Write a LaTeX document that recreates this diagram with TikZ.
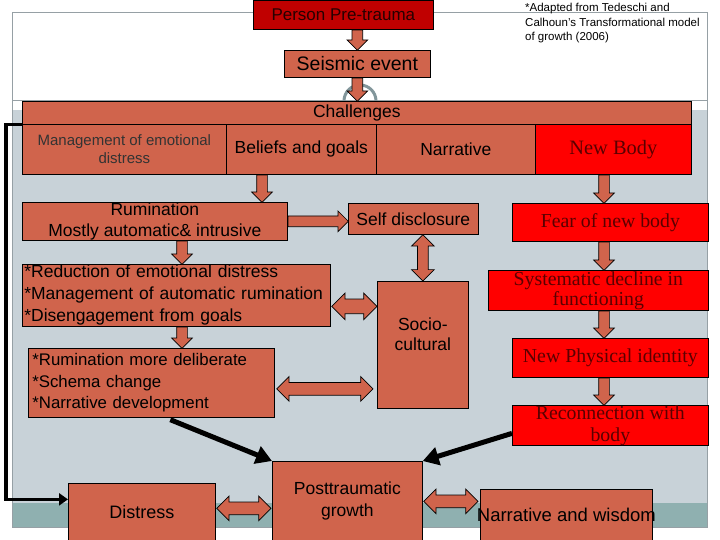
\documentclass[tikz,border=0pt]{standalone}
\usepackage{fontspec}
\setmainfont{Liberation Sans}
\newfontfamily\timesfont{Liberation Serif}
\usetikzlibrary{shapes.arrows, arrows.meta, calc}
\definecolor{terra}{RGB}{208,100,76}
\definecolor{darkbrick}{RGB}{192,0,0}
\definecolor{bodyred}{RGB}{255,0,0}
\definecolor{bodytext}{RGB}{90,0,0}
\definecolor{slate}{RGB}{200,210,216}
\definecolor{bandteal}{RGB}{143,176,176}
\definecolor{framegray}{RGB}{150,160,165}
\definecolor{arcgray}{RGB}{130,150,155}
\tikzset{
    box/.style={draw=black, fill=terra, line width=0.7pt, inner sep=0pt, anchor=north west,
        align=center, font=\fontsize{17.5}{22}\selectfont},
    redbox/.style={box, fill=bodyred, text=bodytext, font=\timesfont\fontsize{19.8}{20}\selectfont},
    blockarr/.style={single arrow, draw=black, fill=terra, line width=0.7pt, inner sep=5pt,
        single arrow head extend=5pt, single arrow tip angle=90, anchor=tail},
    twinarr/.style={double arrow, draw=black, fill=terra, line width=0.7pt, inner sep=6pt,
        double arrow head extend=6pt, double arrow tip angle=90},
    bigarr/.style={line width=5pt, -{Triangle[length=16pt,width=18pt]}},
    loopline/.style={line width=3.5pt, -{Triangle[length=9pt,width=12pt]}}
}
\newcommand{\blockarrow}[4][]{%
    \path let \p1=(#3), \p2=(#4), \n1={veclen(\x2-\x1,\y2-\y1)}, \n2={atan2(\y2-\y1,\x2-\x1)} in
        node[blockarr, #1, rotate=\n2, minimum height=\n1] (#2) at (\p1) {};}
\newcommand{\twinarrow}[4][]{%
    \path let \p1=(#3), \p2=(#4), \n1={veclen(\x2-\x1,\y2-\y1)}, \n2={atan2(\y2-\y1,\x2-\x1)} in
        node[twinarr, #1, rotate=\n2, minimum height=\n1] (#2) at ($(\p1)!0.5!(\p2)$) {};}

\begin{document}
\begin{tikzpicture}[x=1pt, y=-1pt]
    \useasboundingbox (0,0) rectangle (720,540);
    % slide background
    \fill[slate] (12,110) rectangle (707,503);
    \fill[bandteal] (12,503) rectangle (707,527);
    \draw[framegray] (12,12) rectangle (707,527);
    \draw[framegray] (12,100) -- (707,100);
    \draw[arcgray, line width=3pt] (344,101) arc[start angle=180, end angle=0, radius=16pt];

    \node[anchor=north west, align=left, inner sep=0pt, font=\fontsize{11.5}{14.5}\selectfont] (note) at (525,3)
        {*Adapted from Tedeschi and\\Calhoun's Transformational model\\of growth (2006)};

    % top chain
    \node[box, fill=darkbrick, text=black!85!red, minimum width=180, minimum height=29,
        font=\fontsize{17}{20}\selectfont] (person) at (253,0) {Person Pre-trauma};
    \node[box, minimum width=146, minimum height=27, font=\fontsize{19.5}{22}\selectfont] (seismic) at (284,50) {Seismic event};
    \node[box, minimum width=669, minimum height=23] (chall) at (22,101) {Challenges};
    \node[box, minimum width=204, minimum height=50, text=black!80,
        font=\fontsize{15}{18}\selectfont] (mgmt) at (22,124) {Management of emotional\\distress};
    \node[box, minimum width=150, minimum height=50] (belief) at (226,124) {Beliefs and goals};
    \node[box, minimum width=159, minimum height=50] (narr) at (376,124) {Narrative};
    \node[redbox, minimum width=156, minimum height=50, font=\timesfont\fontsize{20.4}{22}\selectfont] (newbody) at (535,124) {New Body};

    % left column
    \node[box, minimum width=265, minimum height=38, font=\fontsize{17.5}{21.5}\selectfont] (rum) at (22,202)
        {Rumination\\Mostly automatic\& intrusive};
    \node[box, minimum width=308, minimum height=62, align=left, text width=304] (reduce) at (22,264)
        {*Reduction of emotional distress\\{}*Management of automatic rumination\\{}*Disengagement from goals};
    \node[box, minimum width=246, minimum height=69, align=left, text width=238,
        font=\fontsize{16.8}{21.5}\selectfont] (deliberate) at (28,348)
        {*Rumination more deliberate\\{}*Schema change\\{}*Narrative development};

    % middle column
    \node[box, minimum width=130, minimum height=31] (self) at (348,203) {Self disclosure};
    \node[box, minimum width=91, minimum height=127] (socio) at (377,281) {};
    \node[align=center, inner sep=0pt, font=\fontsize{17.5}{20}\selectfont] (sociotext) at ($(socio.center)+(0,-11)$) {Socio-\\cultural};

    % right column
    \node[redbox, minimum width=196, minimum height=38] (fear) at (512,203) {Fear of new body};
    \node[redbox, minimum width=220, minimum height=40] (decline) at (488,270) {Systematic decline in\\functioning};
    \node[redbox, minimum width=196, minimum height=39] (physical) at (512,338) {New Physical identity};
    \node[redbox, minimum width=196, minimum height=40, font=\timesfont\fontsize{19.8}{22}\selectfont] (reconnect) at (512,405) {Reconnection with\\body};

    % outcomes
    \node[box, minimum width=147, minimum height=58, font=\fontsize{18}{22}\selectfont] (distress) at (68,483) {Distress};
    \node[box, minimum width=150, minimum height=80] (growth) at (272,461) {Posttraumatic\\growth};
    \node[box, minimum width=172, minimum height=52, font=\fontsize{18.5}{22}\selectfont] (wisdom) at (480,489)
        {\makebox[172pt]{Narrative and wisdom}};

    % block arrows
    \blockarrow{a1}{seismic.north |- person.south}{seismic.north}
    \blockarrow{a2}{seismic.south}{seismic.south |- chall.north}
    \blockarrow{a3}{262,0 |- belief.south}{262,0 |- rum.north}
    \blockarrow{a4}{rum.east}{rum.east -| self.west}
    \blockarrow{a5}{182,0 |- rum.south}{182,0 |- reduce.north}
    \blockarrow{a6}{182,0 |- reduce.south}{182,0 |- deliberate.north}
    \blockarrow{a7}{604,0 |- newbody.south}{604,0 |- fear.north}
    \blockarrow{a8}{604,0 |- fear.south}{604,0 |- decline.north}
    \blockarrow{a9}{604,0 |- decline.south}{604,0 |- physical.north}
    \blockarrow{a10}{604,0 |- physical.south}{604,0 |- reconnect.north}
    \twinarrow[inner sep=5pt]{d1}{socio.north |- self.south}{socio.north}
    \twinarrow[inner sep=7pt]{d2}{$(reduce.east)+(1,11)$}{$(reduce.east -| socio.west)+(0,11)$}
    \twinarrow{d3}{$(deliberate.east)+(2,6)$}{$(deliberate.east -| socio.west)+(-4,6)$}
    \twinarrow{d4}{$(distress.east)+(1,-4)$}{$(distress.east -| growth.west)+(-1,-4)$}
    \twinarrow{d5}{$(growth.east)+(1,0)$}{$(growth.east -| wisdom.west)+(-2,0)$}

    % links into growth
    \draw[bigarr] ($(deliberate.south)+(19,2)$) -- (growth.north west);
    \draw[bigarr] ($(reconnect.west)+(0,8)$) -- (growth.north east);
    \draw[loopline] (chall.south west) -- ++(-16,0) |- ($(distress.west)+(0,-13)$);
\end{tikzpicture}
\end{document}
